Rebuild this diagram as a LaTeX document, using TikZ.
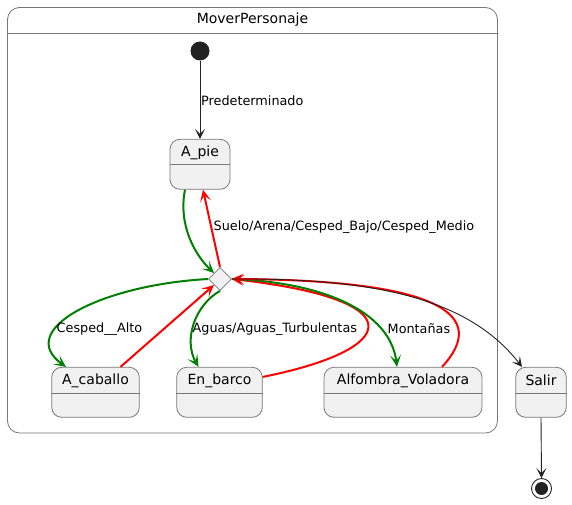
\documentclass[tikz,border=0pt]{standalone}
\usepackage{fontspec}
\setmainfont{DejaVu Sans}
\usetikzlibrary{arrows.meta,shapes.geometric}
\definecolor{sfill}{HTML}{F1F1F1}
\definecolor{sline}{HTML}{787878}
\definecolor{dot}{HTML}{222222}
\definecolor{pgreen}{HTML}{008000}
\definecolor{pred}{HTML}{FF0000}
\tikzset{
  statebox/.style={draw=sline, line width=0.8pt, fill=sfill, rounded corners=10pt, minimum height=50pt, inner sep=0pt},
  sname/.style={inner sep=0pt, font=\fontsize{14}{16}\selectfont, anchor=center},
  lbl/.style={inner sep=0pt, font=\fontsize{12.8}{15}\selectfont, anchor=west},
  blk/.style={-{Stealth[length=10pt,width=10pt,inset=5pt]}, draw=dot, line width=0.9pt},
  grn/.style={-{Stealth[length=12pt,width=11pt,inset=6pt]}, draw=pgreen, line width=2pt},
  rd/.style={-{Stealth[length=12pt,width=11pt,inset=6pt]}, draw=pred, line width=2pt},
}
\begin{document}
\begin{tikzpicture}[x=1pt,y=-1pt]
\useasboundingbox (0,0) rectangle (572,505);
% composite
\node[draw=sline, line width=0.8pt, fill=white, rounded corners=12pt, minimum width=490pt, minimum height=425.5pt, inner sep=0pt] (comp) at (252.5,220.25) {};
\draw[sline, line width=0.8pt] (comp.west |- 0,33.3) coordinate (csl) -- (comp.east |- 0,33.3) coordinate (csr);
\node[sname] (compT) at (252.5,19.5) {MoverPersonaje};
% initial
\node[circle, fill=dot, minimum size=19pt, inner sep=0pt] (init) at (200,51) {};
% states
\node[statebox, minimum width=60pt] (apie) at (200,164.3) {};
\node[statebox, minimum width=87.6pt] (acab) at (95.5,392.3) {};
\node[statebox, minimum width=85.6pt] (ebar) at (219.5,392.3) {};
\node[statebox, minimum width=158pt] (alf) at (403,392.3) {};
\node[statebox, minimum width=50.6pt] (salir) at (541,392.3) {};
\foreach \s in {apie,acab,ebar,alf,salir}{
  \draw[sline, line width=0.8pt] ([yshift=-26pt]\s.north west) -- ([yshift=-26pt]\s.north east);
}
\node[sname] (apieT) at ([yshift=-13.5pt]apie.north) {A\_pie};
\node[sname] (acabT) at ([yshift=-13.5pt]acab.north) {A\_caballo};
\node[sname] (ebarT) at ([yshift=-13.5pt]ebar.north) {En\_barco};
\node[sname] (alfT) at ([yshift=-13.5pt]alf.north) {Alfombra\_Voladora};
\node[sname] (salirT) at ([yshift=-13.5pt]salir.north) {Salir};
% choice
\node[diamond, draw=sline, line width=0.8pt, fill=sfill, minimum size=23pt, inner sep=0pt] (dia) at (220,279) {};
% end
\node[circle, draw=dot, line width=0.9pt, fill=white, minimum size=20pt, inner sep=0pt] (endc) at (541.5,488.5) {};
\node[circle, fill=dot, minimum size=13pt, inner sep=0pt] (endi) at (endc.center) {};
% connectors
\draw[blk] (init.south) -- (apie.north);
\node[lbl] (l1) at (201,101) {Predeterminado};
\draw[grn] ([xshift=-15pt]apie.south) .. controls (178,225) and (195,255) .. (dia.north west);
\draw[rd] (dia.north) -- ([xshift=3pt]apie.south);
\node[lbl] (l2) at (213.5,227) {Suelo/Arena/Cesped\_Bajo/Cesped\_Medio};
\draw[grn] (dia.west) .. controls (100,285) and (15,330) .. ([xshift=-29.5pt]acab.north);
\node[lbl] (l3) at (56.5,329) {Cesped\_\_Alto};
\draw[rd] ([xshift=25pt]acab.north) -- (dia.south west);
\draw[grn] (dia.south) .. controls (195,305) and (183,340) .. ([xshift=-21pt]ebar.north);
\node[lbl] (l4) at (192.5,329) {Aguas/Aguas\_Turbulentas};
\draw[rd] ([yshift=-10pt]ebar.north east) .. controls (398,350) and (418,300) .. (dia.east);
\draw[grn] (dia.east) .. controls (320,282) and (390,310) .. ([xshift=-6pt]alf.north);
\node[lbl] (l5) at (387.5,329) {Montañas};
\draw[rd] ([xshift=39pt]alf.north) .. controls (490,315) and (440,280) .. (dia.east);
\draw[blk] (dia.east) .. controls (380,278) and (470,300) .. ([xshift=-19pt]salir.north);
\draw[blk] (salir.south) -- (endc.north);
\end{tikzpicture}
\end{document}
